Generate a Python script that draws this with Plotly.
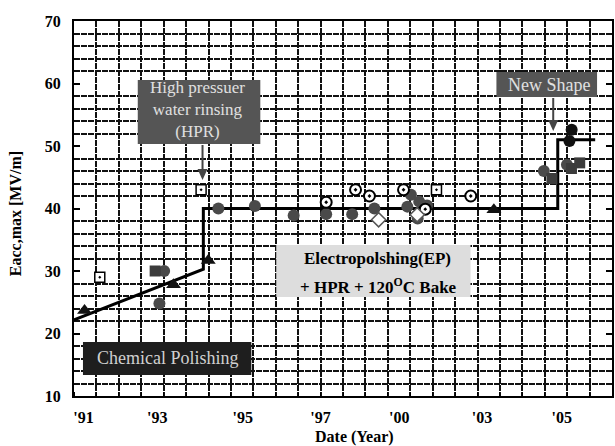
import plotly.graph_objects as go

# Horizontal axis is measured in grid columns (one column per vertical grid line).
tick_pos = [0.42, 3.71, 7.53, 11.0, 14.51, 18.2, 21.76]
tick_text = ["'91", "'93", "'95", "'97", "'00", "'03", "'05"]

# Horizontal grid levels (every 2 MV/m, skipping the labelled decades)
y_grid = [v for v in range(12, 70, 2) if v % 10 != 0]

# Measured Eacc,max values grouped by marker type
tri_x = [0.47, 4.44, 5.99, 18.73]
tri_y = [23.7, 27.8, 31.7, 39.8]

osq_x = [1.15, 5.67, 16.17]
osq_y = [29.0, 43.0, 43.0]

sq_x = [3.62, 21.32, 22.19, 22.56]
sq_y = [30.0, 44.8, 46.4, 47.3]

circ_x = [3.81, 4.02, 6.44, 8.07, 9.8, 11.25, 12.41, 13.4, 14.87, 15.03,
          15.4, 15.75, 15.33, 20.96, 21.99]
circ_y = [24.8, 30.0, 40.0, 40.4, 38.9, 39.1, 39.1, 40.0, 40.3, 42.2,
          41.1, 40.5, 38.4, 46.0, 47.0]

dark_x = [22.2, 22.1]
dark_y = [52.6, 50.8]

ocirc_x = [11.25, 12.56, 13.18, 14.7, 15.67, 17.7]
ocirc_y = [41.0, 43.0, 42.0, 43.0, 39.9, 42.0]

dia_x = [13.59, 15.31]
dia_y = [38.2, 39.0]

# Trend of the achievable gradient (CP slope, EP plateau, new shape plateau)
trend_x = [0.0, 5.77, 5.77, 21.58, 21.58, 23.25]
trend_y = [22.2, 30.3, 40.0, 40.0, 51.0, 51.0]

SERIF = "Liberation Serif"

fig = go.Figure()
fig.add_trace(go.Scatter(x=trend_x, y=trend_y, mode="lines",
                         line=dict(color="black", width=3)))
fig.add_trace(go.Scatter(x=circ_x, y=circ_y, mode="markers",
                         marker=dict(symbol="circle", size=12, color="#4a4a4a")))
fig.add_trace(go.Scatter(x=dark_x, y=dark_y, mode="markers",
                         marker=dict(symbol="circle", size=12, color="#111111")))
fig.add_trace(go.Scatter(x=sq_x, y=sq_y, mode="markers",
                         marker=dict(symbol="square", size=11, color="#3c3c3c")))
fig.add_trace(go.Scatter(x=tri_x, y=tri_y, mode="markers",
                         marker=dict(symbol="triangle-up", size=13, color="#111111")))
fig.add_trace(go.Scatter(x=osq_x, y=osq_y, mode="markers",
                         marker=dict(symbol="square-dot", size=10, color="white",
                                     line=dict(color="black", width=1.5))))
fig.add_trace(go.Scatter(x=ocirc_x, y=ocirc_y, mode="markers",
                         marker=dict(symbol="circle-dot", size=11, color="white",
                                     line=dict(color="black", width=2))))
fig.add_trace(go.Scatter(x=dia_x, y=dia_y, mode="markers",
                         marker=dict(symbol="diamond", size=11, color="white",
                                     line=dict(color="#555555", width=1.5))))

L, T, W, H = 74, 21, 540, 375


def px(x):
    return (x - L) / W


def py(y):
    return (T + H - y) / H


grid = dict(showgrid=True, gridcolor="#111111", gridwidth=2, griddash="6px,1px")

fig.update_xaxes(range=[0, 24], tickmode="array", tickvals=tick_pos, ticktext=tick_text,
                 showgrid=False, zeroline=False, ticks="", ticklabelstandoff=6,
                 showline=True, linecolor="black", linewidth=2, mirror=True,
                 tickfont=dict(family=SERIF, size=16, color="black", weight="bold"),
                 minor=dict(tickmode="linear", tick0=0, dtick=1, ticks="inside",
                            ticklen=4, tickcolor="black", **grid))
fig.update_yaxes(range=[10, 70], tickmode="linear", tick0=10, dtick=10,
                 showgrid=False, zeroline=False, ticks="inside", ticklen=6,
                 tickwidth=2, tickcolor="black", ticklabelstandoff=8,
                 showline=True, linecolor="black", linewidth=2, mirror="ticks",
                 tickfont=dict(family=SERIF, size=16, color="black", weight="bold"),
                 minor=dict(tickmode="array", tickvals=y_grid, ticks="", **grid))

# Label boxes
boxes = [
    (138, 80, 261, 144, "#555555"),   # HPR
    (498, 72, 599, 97, "#555555"),    # New Shape
    (83, 342, 252, 375, "#1e1e1e"),   # Chemical Polishing
    (277, 245, 472, 297, "#dddddd"),  # EP
]
shapes = []
for x0, y0, x1, y1, c in boxes:
    shapes.append(dict(type="rect", xref="paper", yref="paper",
                       x0=px(x0), x1=px(x1), y0=py(y1), y1=py(y0),
                       fillcolor=c, line=dict(width=0), layer="above"))

# Downward arrows from the HPR and New Shape labels (stem + head)
ARROW = "#444444"
for ax_px, tail, head in [(203, 145, 180), (555, 98, 131)]:
    shapes.append(dict(type="line", xref="paper", yref="paper",
                       x0=px(ax_px), x1=px(ax_px), y0=py(tail), y1=py(head - 8),
                       line=dict(color=ARROW, width=2), layer="above"))
    path = (f"M {px(ax_px - 5)},{py(head - 11)} L {px(ax_px + 5)},{py(head - 11)} "
            f"L {px(ax_px)},{py(head)} Z")
    shapes.append(dict(type="path", xref="paper", yref="paper", path=path,
                       fillcolor=ARROW, line=dict(width=0), layer="above"))

annos = []


def text(x, y, s, color, size=16, bold=False):
    annos.append(dict(xref="paper", yref="paper", x=px(x), y=py(y), text=s,
                      showarrow=False, xanchor="center", yanchor="middle",
                      font=dict(family=SERIF, size=size, color=color,
                                weight="bold" if bold else "normal")))


text(198, 110, "High pressuer<br>water rinsing<br>(HPR)", "#e0e0e0", size=17)
text(551, 85, "New Shape", "#e0e0e0", size=18)
text(168, 358, "Chemical Polishing", "#d0d0d0", size=18)
text(379, 258, "Electropolshing(EP)", "black", size=17, bold=True)
text(380, 286, "+ HPR + 120<sup>O</sup>C Bake", "black", size=17, bold=True)

# Axis titles
annos.append(dict(xref="paper", yref="paper", x=px(356), y=py(437), text="Date (Year)",
                  showarrow=False, xanchor="center", yanchor="middle",
                  font=dict(family=SERIF, size=16, color="black", weight="bold")))
annos.append(dict(xref="paper", yref="paper", x=px(16), y=py(214), text="Eacc,max [MV/m]",
                  showarrow=False, xanchor="center", yanchor="middle", textangle=-90,
                  font=dict(family=SERIF, size=16, color="black", weight="bold")))

fig.update_layout(width=615, height=446, showlegend=False,
                  margin=dict(l=L, r=615 - L - W, t=T, b=446 - T - H),
                  plot_bgcolor="white", paper_bgcolor="white",
                  shapes=shapes, annotations=annos)

fig.write_html("out.html")
